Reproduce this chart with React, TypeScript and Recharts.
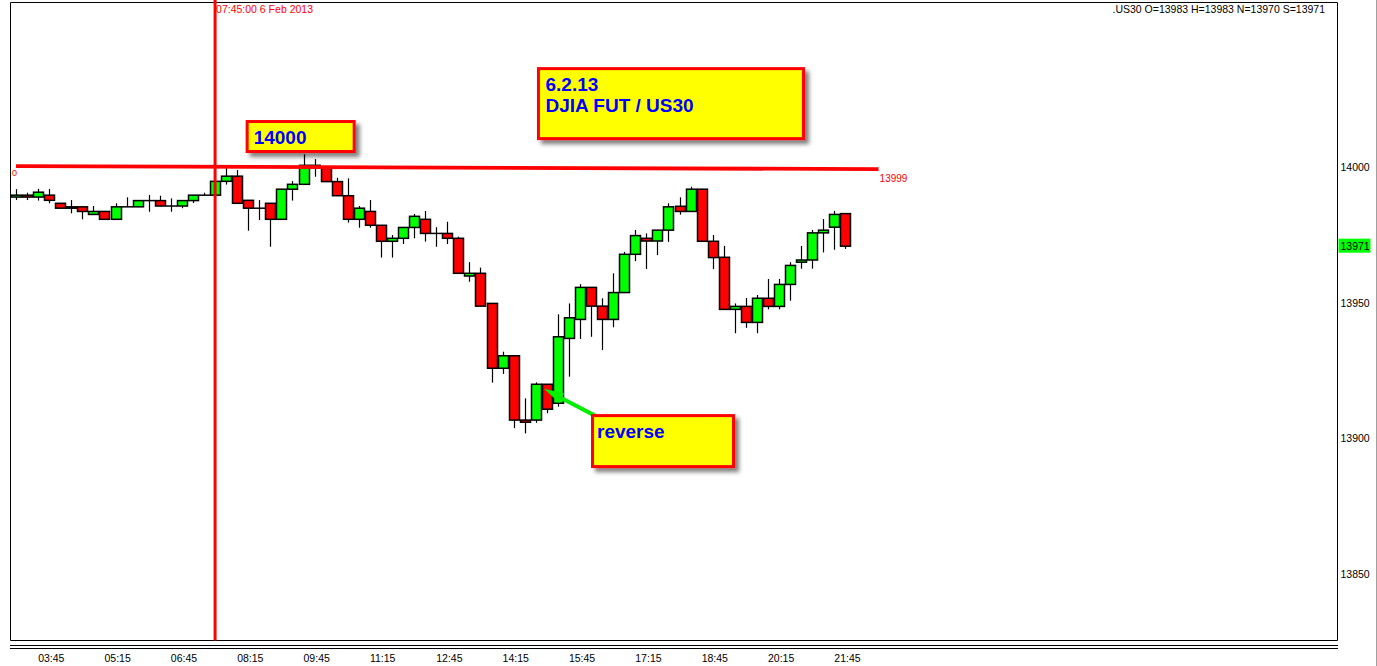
import React from 'react';
import { ComposedChart, Bar, XAxis, YAxis, ReferenceLine, ReferenceArea, ReferenceDot } from 'recharts';

// ---- data (15-minute bars, first bar 03:15, 6 Feb 2013) ----
const opens = [
  13989.1, 13989.8, 13989.1, 13989.8, 13986.8, 13985.0, 13985.5, 13982.7, 13983.8, 13980.9,
  13985.5, 13985.5, 13987.8, 13987.8, 13985.8, 13985.8, 13987.8, 13989.8, 13989.8, 13994.9,
  13996.8, 13987.9, 13985.0, 13986.8, 13980.9, 13992.0, 13993.8, 14000.8, 13999.7, 13994.8,
  13989.6, 13980.9, 13983.8, 13978.7, 13972.8, 13973.9, 13977.9, 13980.9, 13975.7, 13975.7,
  13973.9, 13960.0, 13961.0, 13949.9, 13926.0, 13930.6, 13906.9, 13906.9, 13920.1, 13913.1,
  13937.0, 13944.0, 13955.8, 13948.9, 13944.0, 13953.9, 13968.0, 13973.9, 13972.9, 13976.9,
  13985.7, 13983.8, 13992.0, 13972.8, 13966.9, 13947.7, 13948.8, 13942.9, 13951.8, 13948.8,
  13956.9, 13965.1, 13965.9, 13975.9, 13978.0, 13983.0,
];
const highs = [
  13992.0, 13990.7, 13992.1, 13992.1, 13986.9, 13988.0, 13985.6, 13985.8, 13983.9, 13986.8,
  13989.0, 13987.9, 13989.9, 13989.6, 13988.6, 13987.9, 13989.9, 13990.7, 13995.0, 14000.9,
  13999.1, 13988.0, 13988.0, 13986.9, 13992.1, 13995.0, 14004.9, 14003.1, 13999.8, 13996.2,
  13996.0, 13985.8, 13988.0, 13978.8, 13975.1, 13978.0, 13982.9, 13984.0, 13978.0, 13980.0,
  13974.5, 13965.1, 13963.1, 13950.0, 13932.1, 13930.7, 13914.9, 13920.8, 13920.2, 13945.9,
  13949.9, 13957.0, 13955.9, 13951.8, 13961.0, 13968.9, 13977.0, 13975.7, 13977.0, 13986.8,
  13989.0, 13992.9, 13992.1, 13975.1, 13971.1, 13949.9, 13951.9, 13953.0, 13958.9, 13958.9,
  13965.1, 13971.1, 13977.0, 13981.0, 13984.0, 13983.0,
];
const lows = [
  13988.0, 13988.0, 13987.8, 13986.8, 13984.8, 13983.1, 13980.9, 13982.6, 13980.8, 13980.8,
  13985.4, 13985.4, 13983.7, 13985.7, 13983.7, 13985.0, 13986.9, 13989.7, 13989.7, 13993.7,
  13986.7, 13976.7, 13980.6, 13970.8, 13980.8, 13987.8, 13993.7, 13996.6, 13994.7, 13989.5,
  13979.7, 13977.8, 13977.8, 13966.8, 13966.8, 13971.8, 13973.9, 13972.7, 13970.8, 13971.8,
  13960.9, 13957.9, 13948.8, 13920.7, 13923.9, 13903.9, 13902.0, 13905.9, 13909.4, 13911.8,
  13922.9, 13936.8, 13937.6, 13932.7, 13941.1, 13953.8, 13965.5, 13962.6, 13967.7, 13972.6,
  13982.6, 13983.7, 13972.7, 13962.6, 13947.6, 13938.9, 13940.9, 13938.9, 13947.7, 13947.7,
  13950.9, 13962.7, 13962.7, 13968.7, 13969.7, 13970.0,
];
const closes = [
  13989.8, 13989.1, 13990.9, 13987.9, 13985.0, 13985.5, 13983.8, 13983.8, 13980.9, 13985.5,
  13985.5, 13987.8, 13987.8, 13985.8, 13985.8, 13987.8, 13989.8, 13989.8, 13994.9, 13996.8,
  13986.8, 13985.0, 13985.0, 13980.9, 13992.0, 13993.8, 14000.8, 14000.8, 13994.8, 13989.6,
  13980.9, 13985.0, 13978.7, 13972.8, 13973.9, 13977.9, 13982.0, 13975.7, 13975.7, 13973.9,
  13961.0, 13961.0, 13948.9, 13926.0, 13930.6, 13906.9, 13906.1, 13920.1, 13910.9, 13937.6,
  13944.6, 13955.8, 13948.9, 13944.0, 13953.9, 13968.0, 13974.9, 13972.9, 13976.9, 13985.5,
  13983.8, 13992.0, 13972.8, 13966.8, 13947.7, 13948.8, 13942.9, 13951.8, 13948.8, 13956.9,
  13963.9, 13965.9, 13975.9, 13976.9, 13982.7, 13971.0,
];
const TOTAL_SLOTS = 120; // visible bar slots across the chart window

const tickIndex = [2, 8, 14, 20, 26, 32, 38, 44, 50, 56, 62, 68, 74];
const tickLabels = ['03:45', '05:15', '06:45', '08:15', '09:45', '11:15', '12:45', '14:15', '15:45', '17:15', '18:45', '20:15', '21:45'];
const yTicks = [13850, 13900, 13950, 14000];

const Y_MIN = 13825.65;
const Y_MAX = 14061.74;
const FRAME_TOP = 14060.82;

const markerIndex = 18; // 07:45 bar
const markerLabel = '07:45:00 6 Feb 2013';
const lastPrice = 13971;
const infoText = '.US30 O=13983 H=13983 N=13970 S=13971';
const trendStart = { i: 0, v: 14000.5 };
const trendEnd = { i: 78, v: 13999.4 };
const trendLabel = '13999';

const data = Array.from({ length: TOTAL_SLOTS }, (_, i) =>
  i < opens.length
    ? { i, range: [lows[i], highs[i]], o: opens[i], h: highs[i], l: lows[i], c: closes[i] }
    : { i }
);

const FONT = '"Liberation Sans", Arial, sans-serif';

const Candle = (props: any) => {
  const { x, y, width, height, payload } = props;
  if (!payload || payload.o == null) return null;
  const { o, h, l, c } = payload;
  const top = Math.min(y, y + height);
  const hgt = Math.abs(height);
  const k = hgt / (h - l);
  const cx = Math.round(x + width / 2) + 0.5;
  const yO = top + (h - o) * k;
  const yC = top + (h - c) * k;
  const bt = Math.min(yO, yC);
  const bb = Math.max(yO, yC);
  const up = c >= o;
  return (
    <g>
      <line x1={cx} x2={cx} y1={top} y2={top + hgt} stroke="#000" strokeWidth={1.2} />
      {bb - bt < 0.6 ? (
        <line x1={cx - 5.5} x2={cx + 5.5} y1={bt} y2={bt} stroke="#000" strokeWidth={1.5} />
      ) : (
        <rect x={cx - 5} y={bt} width={10} height={bb - bt} fill={up ? '#00ff00' : '#ff0000'} stroke="#000" strokeWidth={1.5} />
      )}
    </g>
  );
};

const makeBox = (id: string, w: number, h: number, dx: number, lines: string[], tx: number, ty: number[]) => (p: any) => {
  const x = p.cx + dx;
  const y = p.cy;
  return (
    <g>
      <defs>
        <filter id={id} x="-10%" y="-10%" width="130%" height="150%">
          <feDropShadow dx="4" dy="4" stdDeviation="2" floodColor="#000" floodOpacity="0.5" />
        </filter>
      </defs>
      <rect x={x + 1.5} y={y + 1.5} width={w - 3} height={h - 3} fill="#ffff00" stroke="#ff0000" strokeWidth={3} filter={`url(#${id})`} />
      {lines.map((t, k) => (
        <text key={k} x={x + tx} y={y + ty[k]} fill="#0000ff" fontWeight="bold" fontSize={19} fontFamily={FONT}>
          {t}
        </text>
      ))}
    </g>
  );
};

const Arrow = (p: any) => {
  const tx = p.cx - 2.8;
  const ty = p.cy;
  const ex = tx + 59;
  const ey = ty + 31;
  const len = Math.hypot(ex - tx, ey - ty);
  const ux = (ex - tx) / len;
  const uy = (ey - ty) / len;
  const bx = tx + ux * 20;
  const by = ty + uy * 20;
  const px = -uy * 5.5;
  const py = ux * 5.5;
  return (
    <g>
      <line x1={bx} y1={by} x2={ex} y2={ey} stroke="#00ee00" strokeWidth={4} />
      <polygon points={`${tx},${ty} ${bx + px},${by + py} ${bx - px},${by - py}`} fill="#00ee00" />
    </g>
  );
};

const XTick = (p: any) => {
  const k = tickIndex.indexOf(p.payload.value);
  if (k < 0) return null;
  return (
    <text x={p.x} y={p.y + 21} fontSize={10.5} fontFamily={FONT} fill="#000" textAnchor="start">
      {tickLabels[k]}
    </text>
  );
};

const YTick = (p: any) => (
  <text x={p.x} y={p.y} dy="0.35em" fontSize={10.5} fontFamily={FONT} fill="#000" textAnchor="start">
    {p.payload.value}
  </text>
);

export default function App() {
  return (
    <div style={{ position: 'absolute', left: 0, top: 0, width: 1377, height: 666, background: '#fff' }}>
      <ComposedChart
        width={1377}
        height={666}
        data={data}
        margin={{ top: 0, right: 0, bottom: 0, left: 10.5 }}
        barCategoryGap={0}
      >
        <XAxis
          dataKey="i"
          type="category"
          height={25.5}
          ticks={tickIndex}
          interval={0}
          tick={<XTick />}
          tickSize={0}
          tickMargin={0}
          tickLine={false}
          axisLine={false}
        />
        <YAxis
          orientation="right"
          type="number"
          width={39.5}
          domain={[Y_MIN, Y_MAX]}
          allowDataOverflow
          ticks={yTicks}
          tick={<YTick />}
          tickSize={0}
          tickMargin={3}
          tickLine={false}
          axisLine={false}
        />
        <ReferenceArea x1={0} x2={TOTAL_SLOTS - 1} y1={Y_MIN} y2={FRAME_TOP} fill="none" stroke="#000" strokeWidth={1} ifOverflow="visible" />
        <Bar dataKey="range" shape={<Candle />} isAnimationActive={false} />
        <ReferenceLine
          segment={[{ x: trendStart.i, y: trendStart.v }, { x: trendEnd.i, y: trendEnd.v }]}
          stroke="#ff0000"
          strokeWidth={3.8}
        />
        <ReferenceDot
          x={trendEnd.i}
          y={trendEnd.v}
          r={0}
          shape={(p: any) => (
            <text x={p.cx + 1} y={p.cy + 13} fontSize={10} fontFamily={FONT} fill="#ff0000">{trendLabel}</text>
          )}
        />
        <ReferenceDot
          x={trendStart.i}
          y={trendStart.v}
          r={0}
          shape={(p: any) => (
            <text x={p.cx - 4} y={p.cy + 10} fontSize={9} fontFamily={FONT} fill="#ff0000">0</text>
          )}
        />
        <ReferenceLine
          x={markerIndex}
          stroke="#ff0000"
          strokeWidth={3}
          label={(p: any) => (
            <text x={p.viewBox.x + 1} y={13} fontSize={10.5} fontFamily={FONT} fill="#ff0000">{markerLabel}</text>
          )}
        />
        <ReferenceLine
          y={lastPrice}
          stroke="none"
          label={(p: any) => {
            const x = p.viewBox.x + p.viewBox.width + 1;
            const y = p.viewBox.y;
            return (
              <g>
                <rect x={x} y={y - 7.5} width={32} height={14} fill="#00ff00" />
                <text x={x + 2} y={y} dy="0.35em" fontSize={10.5} fontFamily={FONT} fill="#000">{lastPrice}</text>
              </g>
            );
          }}
        />
        <ReferenceDot x={21} y={14017.5} r={0} shape={makeBox('sh1', 110, 33, -2.6, ['14000'], 8, [23.5])} />
        <ReferenceDot x={47} y={14037.0} r={0} shape={makeBox('sh2', 268, 73, 1.2, ['6.2.13', 'DJIA FUT / US30'], 8.5, [24, 45])} />
        <ReferenceDot x={48} y={13918.4} r={0} shape={<Arrow />} />
        <ReferenceDot x={53} y={13909.1} r={0} shape={makeBox('sh3', 144, 54, -11.1, ['reverse'], 6, [24])} />
      </ComposedChart>
      <svg width={1377} height={666} style={{ position: 'absolute', left: 0, top: 0, pointerEvents: 'none' }}>
        <line x1={10} x2={1338} y1={645.5} y2={645.5} stroke="#000" strokeWidth={1} />
        <line x1={10} x2={1338} y1={648.5} y2={648.5} stroke="#000" strokeWidth={1} />
        <line x1={1376.5} x2={1376.5} y1={0} y2={666} stroke="#a0a0a0" strokeWidth={1} />
        <text x={1325} y={13} textAnchor="end" fontSize={10.5} fontFamily={FONT} fill="#000">{infoText}</text>
      </svg>
    </div>
  );
}
